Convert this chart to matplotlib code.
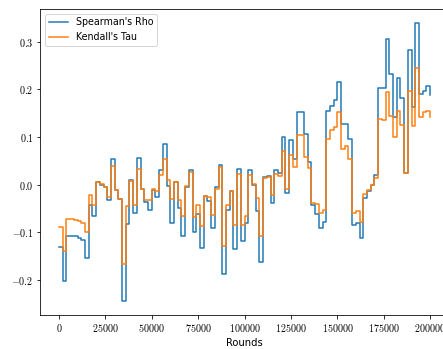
import numpy as np
import matplotlib
matplotlib.use('Agg')
import matplotlib.pyplot as plt
from matplotlib.ticker import FuncFormatter

rounds = np.arange(0, 200001, 2000)

spearman = [
    -0.132, -0.202, -0.109, -0.108, -0.109, -0.112, -0.116, -0.155, -0.044, -0.066,
    0.005, 0.000, -0.005, -0.032, 0.054, -0.011, -0.030, -0.245, -0.082, 0.009,
    -0.060, 0.056, -0.009, -0.037, -0.053, -0.011, -0.026, 0.030, 0.085, -0.002,
    -0.081, 0.005, -0.049, -0.109, -0.005, 0.030, -0.099, -0.061, -0.134, -0.023,
    -0.035, -0.092, -0.005, 0.042, -0.187, -0.053, -0.014, -0.136, 0.033, -0.118,
    -0.080, 0.030, 0.000, -0.056, -0.162, 0.016, 0.018, -0.039, 0.030, 0.025,
    0.101, -0.018, 0.094, 0.054, 0.152, 0.153, 0.106, 0.047, -0.042, -0.061,
    -0.092, -0.078, 0.155, 0.166, 0.178, 0.216, 0.127, 0.127, 0.095, -0.085,
    -0.080, -0.112, -0.028, -0.014, 0.000, 0.021, 0.202, 0.204, 0.305, 0.233,
    0.141, 0.225, 0.181, 0.025, 0.282, 0.164, 0.340, 0.190, 0.196, 0.208,
    0.189,
]

kendall = [
    -0.090, -0.140, -0.072, -0.073, -0.074, -0.077, -0.080, -0.100, -0.021, -0.044,
    0.005, 0.002, -0.005, -0.026, 0.039, -0.011, -0.030, -0.167, -0.046, 0.007,
    -0.042, 0.033, -0.009, -0.032, -0.033, -0.009, -0.014, 0.021, 0.054, 0.009,
    -0.030, 0.005, -0.033, -0.067, -0.004, 0.027, -0.068, -0.042, -0.087, -0.023,
    -0.026, -0.063, -0.009, 0.037, -0.129, -0.042, -0.014, -0.085, 0.023, -0.085,
    -0.066, 0.021, 0.002, -0.028, -0.109, 0.014, 0.016, -0.021, 0.023, 0.019,
    0.070, -0.009, 0.063, 0.037, 0.104, 0.104, 0.058, 0.034, -0.039, -0.040,
    -0.060, -0.053, 0.095, 0.115, 0.120, 0.152, 0.074, 0.082, 0.053, -0.060,
    -0.056, -0.078, -0.020, -0.011, 0.000, 0.014, 0.137, 0.136, 0.194, 0.144,
    0.099, 0.155, 0.125, 0.024, 0.197, 0.123, 0.245, 0.142, 0.153, 0.155,
    0.141,
]

plt.rcParams['mathtext.fontset'] = 'cm'
plt.rcParams['font.family'] = 'DejaVu Sans'

fig = plt.figure(figsize=(443 / 72, 349 / 72), dpi=72)
ax = fig.add_axes([0.0912, 0.0974, 0.9217, 0.877])

ax.step(rounds, spearman, where='post', label="Spearman's Rho", linewidth=1.5)
ax.step(rounds, kendall, where='post', label="Kendall's Tau", linewidth=1.5)

ax.set_xticks(np.arange(0, 200001, 25000))
ax.set_yticks([-0.2, -0.1, 0.0, 0.1, 0.2, 0.3])
ax.xaxis.set_major_formatter(FuncFormatter(lambda v, p: '$%d$' % v))
ax.yaxis.set_major_formatter(FuncFormatter(lambda v, p: '$%.1f$' % v))
ax.tick_params(labelsize=10)

ax.set_xlabel('Rounds', fontsize=10)
ax.legend(loc='upper left', fontsize=9.5)

fig.savefig('out.png', dpi=72)
